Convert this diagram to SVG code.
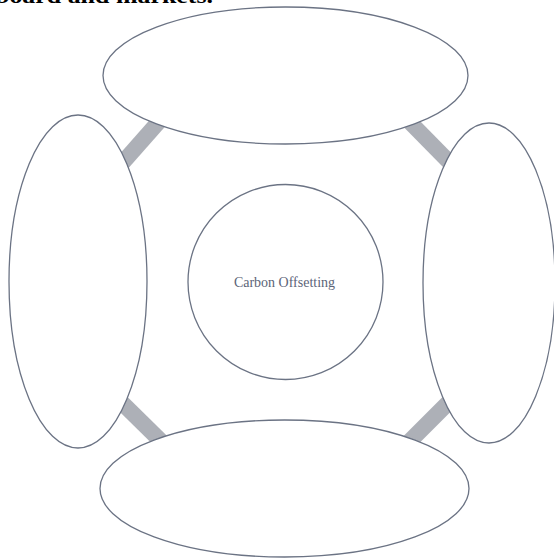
<svg xmlns="http://www.w3.org/2000/svg" width="554" height="559" viewBox="0 0 554 559">
<style>
.node{fill:#ffffff;stroke:#6b7384;stroke-width:1.3}
.band{stroke:#adb0b7;stroke-width:16;stroke-linecap:butt;fill:none}
.label{font-family:"Liberation Serif","DejaVu Serif",serif;font-size:14px;fill:#5c6478;text-anchor:middle}
.top{font-family:"Liberation Serif","DejaVu Serif",serif;font-size:22px;font-weight:bold;fill:#000000}
</style>
<rect width="554" height="559" fill="#ffffff"/>
<text class="top" x="-5" y="3" textLength="218" lengthAdjust="spacingAndGlyphs">board and markets.</text>
<g id="connectors">
<line class="band" x1="170" y1="109" x2="110" y2="177"/>
<line class="band" x1="400" y1="112" x2="460" y2="173"/>
<line class="band" x1="112" y1="393" x2="172" y2="452"/>
<line class="band" x1="398" y1="453" x2="460" y2="391"/>
</g>
<g id="top-node"><ellipse class="node" cx="285.5" cy="75.5" rx="182.5" ry="68.5"/></g>
<g id="left-node"><ellipse class="node" cx="78" cy="281.5" rx="69" ry="166.5"/></g>
<g id="right-node"><ellipse class="node" cx="489" cy="283" rx="66" ry="160"/></g>
<g id="bottom-node"><ellipse class="node" cx="284.5" cy="488.5" rx="184.5" ry="68.5"/></g>
<g id="center-node">
<circle class="node" cx="285.5" cy="282" r="97.5"/>
<text class="label" x="284.5" y="287">Carbon Offsetting</text>
</g>
</svg>
